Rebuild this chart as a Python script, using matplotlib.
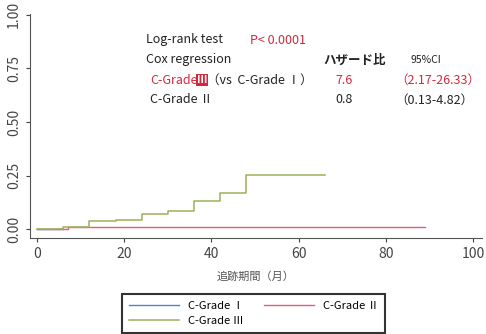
import numpy as np
import matplotlib
matplotlib.use("Agg")
import matplotlib.pyplot as plt

plt.rcParams['font.family'] = ['Noto Sans CJK JP', 'DejaVu Sans']

# 累積発生率のステップ（月, 値）
t_g1 = [0, 6]
y_g1 = [0.0, 0.0]
t_g2 = [0, 7, 89]
y_g2 = [0.0, 0.009, 0.009]
t_g3 = [0, 6, 12, 18, 24, 30, 36, 42, 48, 66]
y_g3 = [0.0, 0.011, 0.039, 0.045, 0.073, 0.084, 0.132, 0.169, 0.253, 0.253]

labels = ['C-Grade Ⅰ', 'C-Grade Ⅱ', 'C-Grade Ⅲ']
colors = ['#4a86c8', '#e0607a', '#9bb25a']

xticks = [0, 20, 40, 60, 80, 100]
yticks = [0.0, 0.25, 0.5, 0.75, 1.0]

fig = plt.figure(figsize=(4.86, 3.34), dpi=100)
ax = fig.add_axes([30 / 486, 1 - 238 / 334, 452 / 486, 224 / 334])

l1, = ax.step(t_g1, y_g1, where='post', color=colors[0], lw=1)
l2, = ax.step(t_g2, y_g2, where='post', color=colors[1], lw=1)
l3, = ax.step(t_g3, y_g3, where='post', color=colors[2], lw=1.1)

ax.set_xlim(-1.6, 102)
ax.set_ylim(-0.04, 1.004)
ax.set_xticks(xticks)
ax.set_yticks(yticks)
ax.set_yticklabels(['0.00', '0.25', '0.50', '0.75', '1.00'], rotation=90, va='center')
ax.tick_params(colors='#444444', labelsize=10, length=3)
for s in ['top', 'right']:
    ax.spines[s].set_visible(False)
for s in ['left', 'bottom']:
    ax.spines[s].set_color('#555555')
ax.set_xlabel('追跡期間（月）', fontsize=8, color='#555555', labelpad=7)

red = '#d4283c'
fs = 9
def px(x, y):
    return x / 486, 1 - y / 334

fig.text(*px(146, 40), 'Log-rank test', fontsize=fs, color='#222222', va='center')
fig.text(*px(250, 40), 'P< 0.0001', fontsize=fs, color=red, va='center')
fig.text(*px(146, 60), 'Cox regression', fontsize=fs, color='#222222', va='center')
fig.text(*px(323, 60), 'ハザード比', fontsize=fs, color='#222222', va='center', weight='bold')
fig.text(*px(410, 60), '95%CI', fontsize=7.5, color='#222222', va='center')
fig.text(*px(150, 80), 'C-Grade', fontsize=fs, color=red, va='center')
fig.text(*px(197, 80), 'Ⅲ', fontsize=7.5, color='white', va='center', weight='bold',
         bbox=dict(boxstyle='square,pad=0.05', fc=red, ec='none'))
fig.text(*px(207, 80), '（vs  C-Grade Ⅰ）', fontsize=fs, color='#222222', va='center')
fig.text(*px(335, 80), '7.6', fontsize=fs, color=red, va='center')
fig.text(*px(395, 80), '（2.17-26.33）', fontsize=fs, color=red, va='center')
fig.text(*px(150, 100), 'C-Grade Ⅱ', fontsize=fs, color='#222222', va='center')
fig.text(*px(335, 100), '0.8', fontsize=fs, color='#222222', va='center')
fig.text(*px(395, 100), '（0.13-4.82）', fontsize=fs, color='#222222', va='center')

leg = fig.legend([l1, l3, l2], [labels[0], labels[2], labels[1]], ncol=2,
                 loc='lower left', bbox_to_anchor=(122 / 486, 1 / 334, 263 / 486, 41 / 334),
                 mode='expand', fancybox=False, edgecolor='black', fontsize=8,
                 handlelength=4.5, borderaxespad=0, labelspacing=0.5, handletextpad=0.8,
                 borderpad=0.6)
leg.get_frame().set_linewidth(1.5)

fig.savefig('out.png', dpi=100)
